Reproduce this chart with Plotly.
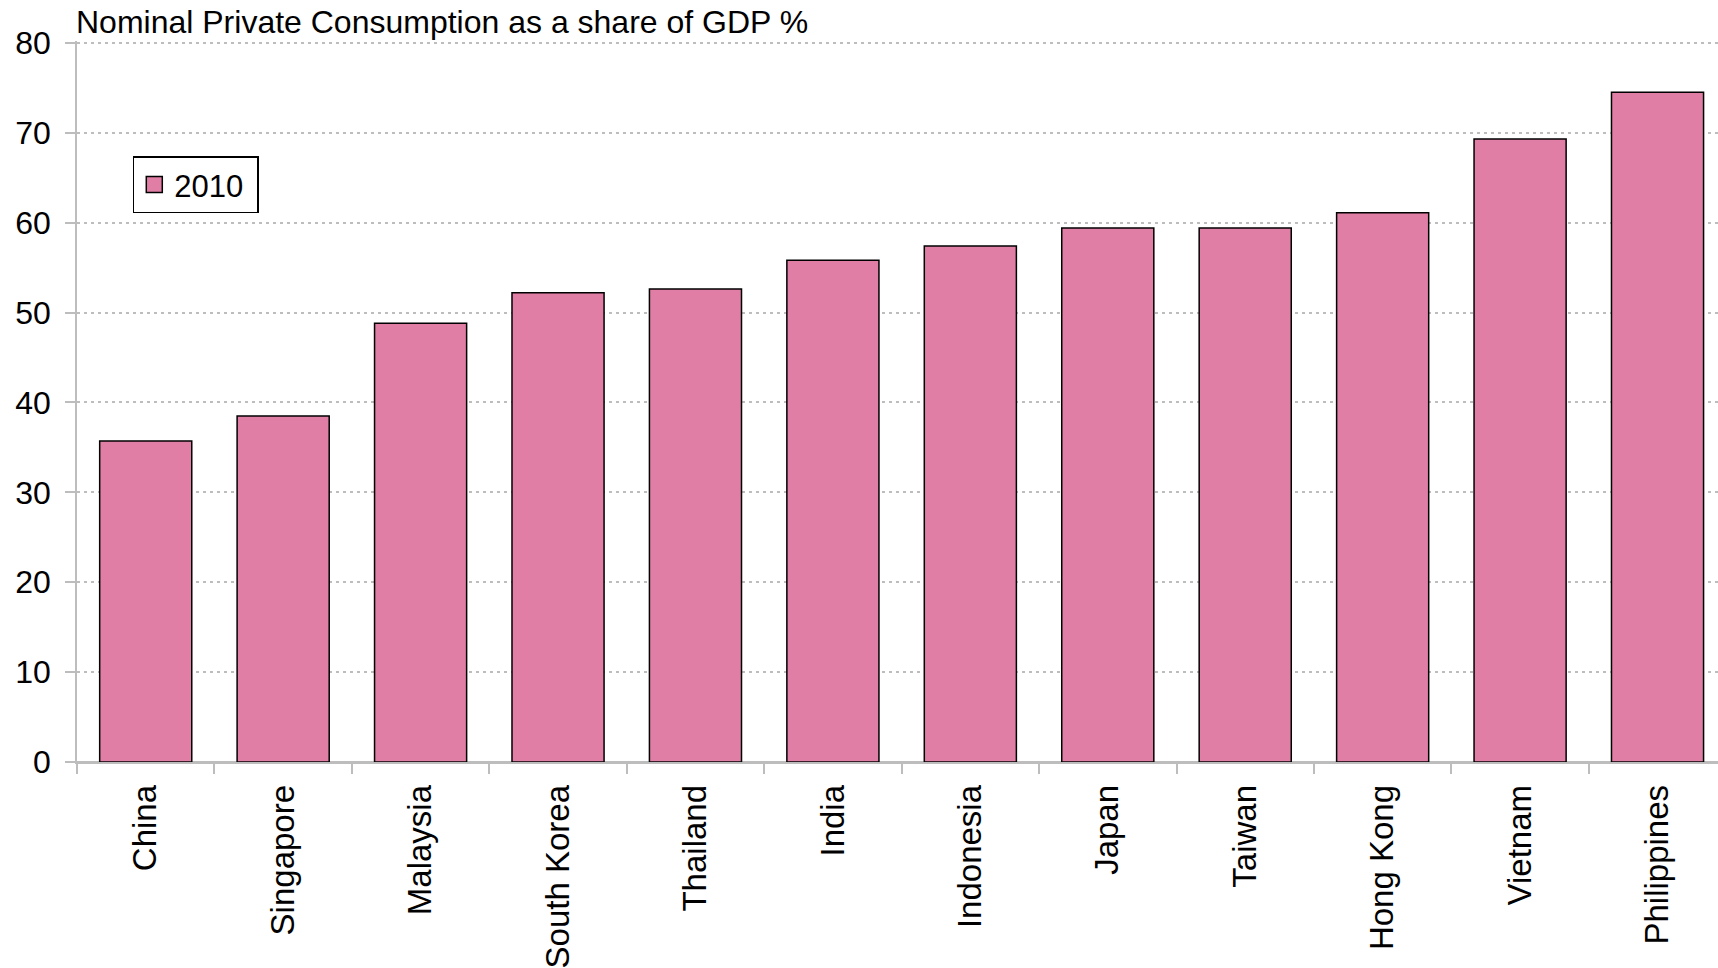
import plotly.graph_objects as go

# Nominal private consumption as a share of GDP, 2010 (%)
countries = ["China", "Singapore", "Malaysia", "South Korea", "Thailand", "India",
             "Indonesia", "Japan", "Taiwan", "Hong Kong", "Vietnam", "Philippines"]
share_2010 = [35.7, 38.5, 48.8, 52.2, 52.6, 55.8, 57.4, 59.4, 59.4, 61.1, 69.3, 74.5]
y_ticks = [0, 10, 20, 30, 40, 50, 60, 70, 80]

BAR_PINK = "#E17EA5"
GRID_GREY = "#BDBDBD"
FONT = "Liberation Sans, Arial, sans-serif"

fig = go.Figure()
fig.add_trace(go.Bar(
    x=countries, y=share_2010, name="2010", showlegend=False,
    width=0.67,
    marker=dict(color=BAR_PINK, line=dict(color="black", width=1.5)),
))
# legend entry with a larger square swatch
fig.add_trace(go.Scatter(
    x=[None], y=[None], mode="markers", name="2010 ",
    marker=dict(symbol="square", size=18, color=BAR_PINK,
                line=dict(color="black", width=1.5)),
))

fig.update_layout(
    width=1718, height=968,
    margin=dict(l=77, r=0, t=41, b=204),
    paper_bgcolor="white", plot_bgcolor="white",
    font=dict(family=FONT, color="black"),
    showlegend=True,
    legend=dict(x=0.034, y=0.84, xanchor="left", yanchor="top",
                bordercolor="black", borderwidth=1.5, bgcolor="white",
                font=dict(size=31, family=FONT)),
    annotations=[dict(
        text="Nominal Private Consumption as a share of GDP %",
        xref="paper", yref="paper", x=0, y=1, xanchor="left", yanchor="bottom",
        showarrow=False, font=dict(size=32, family=FONT, color="black"),
        xshift=-3, yshift=-1,
    )],
)

fig.update_xaxes(
    type="category", range=[-0.5, 11.44],
    tickangle=-90, tickfont=dict(size=33, family=FONT),
    ticks="outside", ticklen=10, tickwidth=1.5, tickcolor=GRID_GREY,
    tickson="boundaries", ticklabelstandoff=8,
    showline=True, linecolor=GRID_GREY, linewidth=1.5,
    showgrid=False,
)
fig.update_yaxes(
    range=[0, 80.2], tickvals=y_ticks,
    tickfont=dict(size=32, family=FONT),
    ticks="outside", ticklen=10, tickwidth=1.5, tickcolor=GRID_GREY,
    ticklabelstandoff=8,
    showline=True, linecolor=GRID_GREY, linewidth=1.5,
    showgrid=True, gridcolor=GRID_GREY, gridwidth=1.5, griddash="3px,4px",
    zeroline=True, zerolinecolor=GRID_GREY, zerolinewidth=1.5,
)

fig.write_html("out.html")
